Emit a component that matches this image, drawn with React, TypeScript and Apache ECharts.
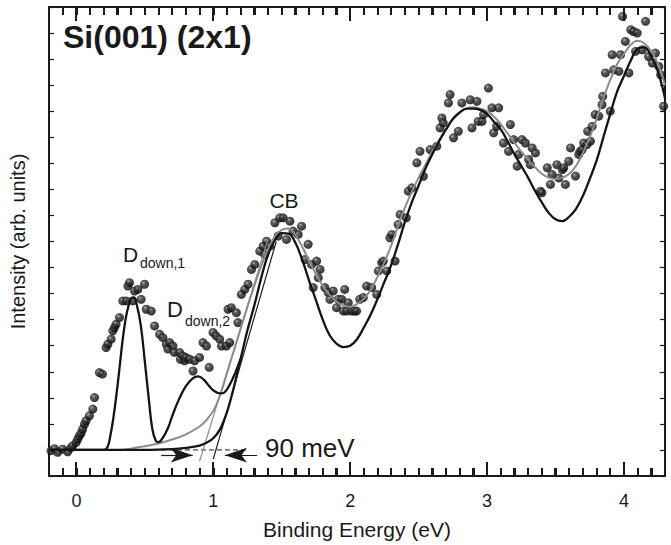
import { useEffect, useRef } from 'react';
import * as echarts from 'echarts';

const FONT = '"Liberation Sans", Arial, Helvetica, sans-serif';

const xMajorTicks = [0, 1, 2, 3, 4];

// measured photoemission intensity (binding energy eV, intensity arb.)
const measuredPoints: number[][] = [
  [-0.185, 0.97], [-0.16, 1.05], [-0.137, 0.91], [-0.1, 1.03], [-0.064, 0.93], [-0.04, 1.08], [-0.027, 1.16],
  [-0.002, 1.29], [0.01, 1.42], [0.022, 1.54], [0.035, 1.65], [0.046, 1.8], [0.059, 1.99], [0.071, 2.12],
  [0.095, 2.31], [0.12, 2.57], [0.132, 3.01], [0.168, 3.97], [0.19, 3.91], [0.217, 4.93], [0.23, 5.06],
  [0.254, 5.25], [0.266, 5.57], [0.278, 5.7], [0.29, 5.82], [0.315, 6.08], [0.339, 6.72], [0.364, 6.72],
  [0.376, 7.29], [0.388, 7.42], [0.412, 6.72], [0.425, 7.1], [0.449, 7.16], [0.473, 6.78], [0.498, 7.36],
  [0.51, 6.4], [0.547, 6.33], [0.571, 5.76], [0.608, 5.44], [0.632, 5.31], [0.657, 5.06], [0.668, 4.87],
  [0.681, 5.12], [0.705, 4.99], [0.715, 4.75], [0.754, 4.74], [0.76, 4.48], [0.778, 4.61], [0.79, 4.42],
  [0.8, 4.55], [0.827, 4.48], [0.852, 4.03], [0.864, 4.42], [0.9, 4.55], [0.925, 5.12], [0.95, 4.99],
  [0.97, 4.17], [0.998, 5.51], [1.02, 5.38], [1.047, 5.25], [1.06, 4.99], [1.096, 4.99], [1.12, 5.12],
  [1.108, 6.4], [1.132, 6.46], [1.169, 6.27], [1.18, 5.89], [1.205, 6.97], [1.23, 7.16], [1.254, 7.36],
  [1.279, 7.93], [1.303, 8.12], [1.34, 8.63], [1.364, 8.82], [1.376, 8.5], [1.389, 9.01], [1.413, 8.82],
  [1.45, 9.72], [1.474, 9.21], [1.486, 9.91], [1.51, 9.91], [1.535, 9.08], [1.56, 9.78], [1.583, 9.4],
  [1.62, 9.27], [1.645, 9.59], [1.67, 8.31], [1.693, 8.89], [1.718, 8.12], [1.73, 7.23], [1.755, 8.25],
  [1.767, 7.61], [1.78, 7.93], [1.815, 7.23], [1.84, 7.04], [1.852, 6.78], [1.876, 7.1], [1.9, 6.46],
  [1.913, 6.78], [1.938, 6.78], [1.95, 6.33], [1.96, 7.16], [1.974, 6.33], [1.986, 6.65], [2.01, 6.33],
  [2.03, 6.33], [2.047, 6.33], [2.07, 6.78], [2.096, 6.85], [2.12, 7.29], [2.157, 7.23], [2.194, 6.97],
  [2.206, 7.87], [2.23, 8.19], [2.242, 8.25], [2.267, 7.87], [2.29, 9.14], [2.304, 9.27], [2.328, 8.25],
  [2.35, 9.65], [2.365, 10.04], [2.41, 9.91], [2.425, 10.93], [2.45, 11.06], [2.487, 12.02], [2.51, 12.46],
  [2.535, 11.5], [2.584, 12.53], [2.633, 12.66], [2.657, 13.36], [2.67, 13.74], [2.68, 13.55], [2.718, 14.32],
  [2.73, 14.64], [2.755, 12.98], [2.79, 13.23], [2.816, 14.32], [2.877, 14.44], [2.89, 13.36], [2.926, 14.38],
  [2.935, 13.61], [2.963, 13.61], [2.975, 13.87], [3.01, 14.89], [3.036, 14.13], [3.048, 13.17], [3.07, 13.42],
  [3.085, 14.13], [3.12, 12.78], [3.157, 12.46], [3.17, 13.49], [3.194, 12.91], [3.22, 11.89], [3.23, 12.34],
  [3.255, 12.91], [3.28, 12.78], [3.304, 12.15], [3.316, 11.95], [3.33, 12.59], [3.353, 12.4], [3.39, 10.93],
  [3.4, 10.87], [3.44, 11.83], [3.463, 11.19], [3.475, 11.57], [3.51, 11.95], [3.524, 11.44], [3.55, 11.76],
  [3.56, 11.83], [3.572, 11.19], [3.597, 12.08], [3.61, 12.59], [3.646, 11.51], [3.67, 12.34], [3.68, 12.46],
  [3.695, 12.53], [3.706, 12.78], [3.73, 12.72], [3.735, 13.23], [3.755, 12.85], [3.768, 13.42], [3.79, 13.87],
  [3.816, 13.81], [3.84, 14.25], [3.845, 14.57], [3.865, 15.47], [3.9, 14.0], [3.914, 16.17], [3.926, 15.59],
  [3.963, 15.53], [3.975, 16.17], [3.99, 17.64], [4.01, 16.68], [4.036, 15.47], [4.05, 17.13], [4.07, 17.06],
  [4.085, 16.3], [4.097, 17.0], [4.134, 16.36], [4.158, 17.45], [4.18, 16.1], [4.207, 15.85], [4.23, 16.23],
  [4.255, 15.72], [4.268, 15.4], [4.29, 14.19],
];

// bulk fit (black)
const fitBulkBlack: number[][] = [
  [-0.2, 1.0], [0.5, 1.0], [0.7, 1.03], [0.8, 1.08], [0.9, 1.17], [0.95, 1.28], [1.0, 1.45], [1.05, 1.8],
  [1.1, 2.45], [1.15, 3.4], [1.2, 4.5], [1.25, 5.6], [1.3, 6.55], [1.35, 7.6], [1.4, 8.5], [1.45, 9.05],
  [1.5, 9.32], [1.55, 9.3], [1.6, 8.95], [1.65, 8.3], [1.7, 7.5], [1.75, 6.75], [1.8, 6.0], [1.85, 5.4],
  [1.9, 5.08], [1.95, 4.95], [2.0, 5.0], [2.05, 5.25], [2.1, 5.7], [2.15, 6.2], [2.2, 6.8], [2.25, 7.45],
  [2.3, 8.1], [2.35, 8.9], [2.4, 9.75], [2.45, 10.5], [2.5, 11.15], [2.55, 11.8], [2.6, 12.35], [2.65, 12.85],
  [2.7, 13.3], [2.75, 13.7], [2.8, 13.95], [2.85, 14.1], [2.9, 14.1], [2.95, 14.05], [3.0, 13.9], [3.05, 13.6],
  [3.1, 13.3], [3.15, 12.85], [3.2, 12.35], [3.25, 11.9], [3.3, 11.45], [3.35, 10.95], [3.4, 10.5], [3.45, 10.1],
  [3.5, 9.85], [3.55, 9.78], [3.6, 9.95], [3.65, 10.25], [3.7, 10.75], [3.75, 11.4], [3.8, 12.1], [3.85, 13.0],
  [3.9, 13.9], [3.95, 14.75], [4.0, 15.35], [4.05, 15.95], [4.1, 16.4], [4.15, 16.45], [4.2, 16.1], [4.25, 15.5],
  [4.3, 14.5],
];

// fit including the surface (D_down) components (black)
const fitSurfaceBlack: number[][] = [
  [-0.2, 1.0], [0.18, 1.0], [0.22, 1.05], [0.25, 1.6], [0.28, 2.6], [0.31, 3.9], [0.34, 5.3], [0.37, 6.3],
  [0.4, 6.8], [0.42, 6.85], [0.44, 6.6], [0.47, 5.8], [0.5, 4.4], [0.53, 2.9], [0.555, 1.8], [0.58, 1.35],
  [0.6, 1.3], [0.63, 1.45], [0.67, 1.85], [0.7, 2.3], [0.75, 2.95], [0.8, 3.45], [0.85, 3.75], [0.89, 3.82],
  [0.93, 3.7], [0.97, 3.45], [1.01, 3.25], [1.05, 3.17], [1.08, 3.2], [1.12, 3.5], [1.16, 3.95], [1.2, 4.5],
];

// broadened fit (grey)
const fitGray: number[][] = [
  [-0.2, 1.0], [0.3, 1.0], [0.45, 1.1], [0.6, 1.25], [0.7, 1.4], [0.8, 1.6], [0.9, 1.9], [0.95, 2.15],
  [1.0, 2.5], [1.05, 3.1], [1.1, 3.95], [1.15, 4.8], [1.2, 5.65], [1.25, 6.5], [1.3, 7.3], [1.35, 8.05],
  [1.4, 8.7], [1.45, 9.2], [1.5, 9.45], [1.55, 9.5], [1.6, 9.25], [1.65, 8.8], [1.7, 8.25], [1.75, 7.75],
  [1.8, 7.3], [1.85, 6.95], [1.9, 6.7], [1.95, 6.55], [2.0, 6.5], [2.05, 6.6], [2.1, 6.8], [2.15, 7.15],
  [2.2, 7.65], [2.25, 8.2], [2.3, 8.85], [2.35, 9.6], [2.4, 10.3], [2.45, 10.9], [2.5, 11.45], [2.55, 11.95],
  [2.6, 12.45], [2.65, 12.9], [2.7, 13.3], [2.75, 13.7], [2.8, 13.95], [2.85, 14.1], [2.9, 14.15], [2.95, 14.1],
  [3.0, 14.0], [3.05, 13.8], [3.1, 13.5], [3.15, 13.15], [3.2, 12.8], [3.25, 12.45], [3.3, 12.15], [3.35, 11.85],
  [3.4, 11.6], [3.45, 11.45], [3.5, 11.4], [3.55, 11.45], [3.6, 11.6], [3.65, 11.9], [3.7, 12.4], [3.75, 13.0],
  [3.8, 13.7], [3.85, 14.5], [3.9, 15.2], [3.95, 15.8], [4.0, 16.2], [4.05, 16.55], [4.1, 16.7], [4.15, 16.6],
  [4.2, 16.3], [4.25, 15.8], [4.3, 15.0],
];

// leading-edge tangents and baseline
const tangentGray: number[][] = [[0.9, 0.57], [1.4, 9.1]];
const tangentBlack: number[][] = [[1.0, 0.65], [1.46, 9.0]];
const baselineDashed: number[][] = [[-0.2, 1.0], [1.25, 1.0]];

// 90 meV arrows: [start x, arrowhead centre x], at y
const arrowY = 0.8;
const arrowLeft = [0.62, 0.85];
const arrowRight = [1.32, 1.085];

const X_MIN = -0.2;
const X_MAX = 4.3;
const X_MINOR = 0.1;
const Y_MIN = 0;
const Y_MAX = 18;

// energy-axis tick marks (every 0.1 eV inside the frame): [value, isMajor]
const xTickMarks: number[][] = [];
for (let k = -1; k <= 42; k++) {
  xTickMarks.push([k / 10, xMajorTicks.indexOf(k / 10) >= 0 ? 1 : 0]);
}

export default function App() {
  const ref = useRef<HTMLDivElement>(null);
  useEffect(() => {
    document.body.style.margin = '0';
    const chart = echarts.init(ref.current!, null, { renderer: 'svg' });
    const axisLine = { show: true, onZero: false, lineStyle: { color: '#1a1a1a', width: 2 } };
    const sphere = new echarts.graphic.RadialGradient(0.38, 0.35, 0.62, [
      { offset: 0, color: '#a8a8a8' },
      { offset: 0.3, color: '#353535' },
      { offset: 1, color: '#030303' },
    ]);
    const option: any = {
      animation: false,
      backgroundColor: '#fff',
      grid: { left: 48, right: 6, top: 7, bottom: 68 },
      xAxis: [
        {
          type: 'value',
          min: X_MIN,
          max: X_MAX,
          interval: X_MINOR,
          position: 'bottom',
          splitLine: { show: false },
          axisLine,
          axisTick: { show: true, inside: true, length: 8, lineStyle: { color: '#1a1a1a', width: 2 } },
          axisLabel: {
            show: true,
            interval: 0,
            margin: 16,
            color: '#1a1a1a',
            fontSize: 18,
            fontFamily: FONT,
            formatter: (v: number) => (Math.abs(v - Math.round(v)) < 1e-6 ? String(Math.round(v)) : ''),
          },
          name: 'Binding Energy (eV)',
          nameLocation: 'middle',
          nameGap: 43,
          nameTextStyle: { color: '#1a1a1a', fontSize: 21, fontFamily: FONT },
        },
        {
          type: 'value',
          min: X_MIN,
          max: X_MAX,
          interval: X_MINOR,
          position: 'top',
          splitLine: { show: false },
          axisLine,
          axisTick: { show: true, inside: true, length: 8, lineStyle: { color: '#1a1a1a', width: 2 } },
          axisLabel: { show: false },
        },
      ],
      yAxis: [
        {
          type: 'value',
          position: 'left',
          min: Y_MIN,
          max: Y_MAX,
          interval: 1,
          splitLine: { show: false },
          axisLine,
          axisTick: { show: true, inside: true, length: 5, lineStyle: { color: '#1a1a1a', width: 1.2 } },
          axisLabel: { show: false },
          name: 'Intensity (arb. units)',
          nameLocation: 'middle',
          nameGap: 21,
          nameTextStyle: { color: '#1a1a1a', fontSize: 20, fontFamily: FONT },
        },
        {
          type: 'value',
          position: 'right',
          min: Y_MIN,
          max: Y_MAX,
          interval: 1,
          splitLine: { show: false },
          axisLine,
          axisTick: { show: true, inside: true, length: 5, lineStyle: { color: '#1a1a1a', width: 1.2 } },
          axisLabel: { show: false },
        },
      ],
      series: [
        {
          type: 'custom',
          data: xTickMarks,
          clip: false,
          z: 9,
          renderItem: (_p: any, api: any) => {
            const v = api.value(0);
            const len = api.value(1) === 1 ? 14 : 8;
            const b = api.coord([v, Y_MIN]);
            const t = api.coord([v, Y_MAX]);
            const x = Math.round(b[0]);
            const st = { stroke: '#1a1a1a', lineWidth: 2, fill: 'none' };
            return {
              type: 'group',
              children: [
                { type: 'polyline', shape: { points: [[x, b[1]], [x, b[1] - len]] }, style: st },
                { type: 'polyline', shape: { points: [[x, t[1]], [x, t[1] + len]] }, style: st },
              ],
            };
          },
        },
        {
          type: 'scatter',
          data: measuredPoints,
          symbol: 'circle',
          symbolSize: 9,
          itemStyle: { color: sphere },
          z: 2,
        },
        {
          type: 'line',
          data: baselineDashed,
          symbol: 'none',
          lineStyle: { color: '#1a1a1a', width: 1, type: [5, 3] },
          z: 3,
          markLine: {
            silent: true,
            symbol: ['none', 'arrow'],
            symbolSize: [11, 22],
            label: { show: false },
            lineStyle: { color: '#1a1a1a', width: 1.2, type: 'solid' },
            data: [
              [{ coord: [arrowLeft[0], arrowY] }, { coord: [arrowLeft[1], arrowY] }],
              [{ coord: [arrowRight[0], arrowY] }, { coord: [arrowRight[1], arrowY] }],
            ],
          },
        },
        {
          type: 'line',
          data: tangentGray,
          symbol: 'none',
          lineStyle: { color: '#8a8a8a', width: 1.2 },
          z: 4,
        },
        {
          type: 'line',
          data: tangentBlack,
          symbol: 'none',
          lineStyle: { color: '#1a1a1a', width: 1.2 },
          z: 4,
        },
        {
          type: 'line',
          data: fitGray,
          symbol: 'none',
          smooth: 0.4,
          lineStyle: { color: '#8c8c8c', width: 2 },
          z: 5,
        },
        {
          type: 'line',
          data: fitBulkBlack,
          symbol: 'none',
          smooth: 0.4,
          lineStyle: { color: '#141414', width: 2.3 },
          z: 6,
        },
        {
          type: 'line',
          data: fitSurfaceBlack,
          symbol: 'none',
          smooth: 0.4,
          lineStyle: { color: '#141414', width: 2.3 },
          z: 6,
        },
      ],
      graphic: [
        {
          type: 'text', x: 63, y: 37, z: 10,
          style: { text: 'Si(001) (2x1)', font: `bold 32px ${FONT}`, fill: '#1a1a1a', align: 'left', verticalAlign: 'middle' },
        },
        {
          type: 'text', x: 284, y: 200, z: 10,
          style: { text: 'CB', font: `21px ${FONT}`, fill: '#1a1a1a', align: 'center', verticalAlign: 'middle' },
        },
        {
          type: 'text', x: 123, y: 254, z: 10,
          style: { text: 'D', font: `21px ${FONT}`, fill: '#1a1a1a', align: 'left', verticalAlign: 'middle' },
        },
        {
          type: 'text', x: 140, y: 263, z: 10,
          style: { text: 'down,1', font: `14px ${FONT}`, fill: '#1a1a1a', align: 'left', verticalAlign: 'middle' },
        },
        {
          type: 'text', x: 167, y: 309, z: 10,
          style: { text: 'D', font: `22px ${FONT}`, fill: '#1a1a1a', align: 'left', verticalAlign: 'middle' },
        },
        {
          type: 'text', x: 185, y: 321, z: 10,
          style: { text: 'down,2', font: `14px ${FONT}`, fill: '#1a1a1a', align: 'left', verticalAlign: 'middle' },
        },
        {
          type: 'text', x: 265, y: 448, z: 10,
          style: { text: '90 meV', font: `26px ${FONT}`, fill: '#1a1a1a', align: 'left', verticalAlign: 'middle' },
        },
      ],
    };
    chart.setOption(option);
    return () => chart.dispose();
  }, []);
  return (
    <div
      ref={ref}
      style={{ position: 'absolute', left: 0, top: 0, width: 671, height: 545, background: '#fff' }}
    />
  );
}
